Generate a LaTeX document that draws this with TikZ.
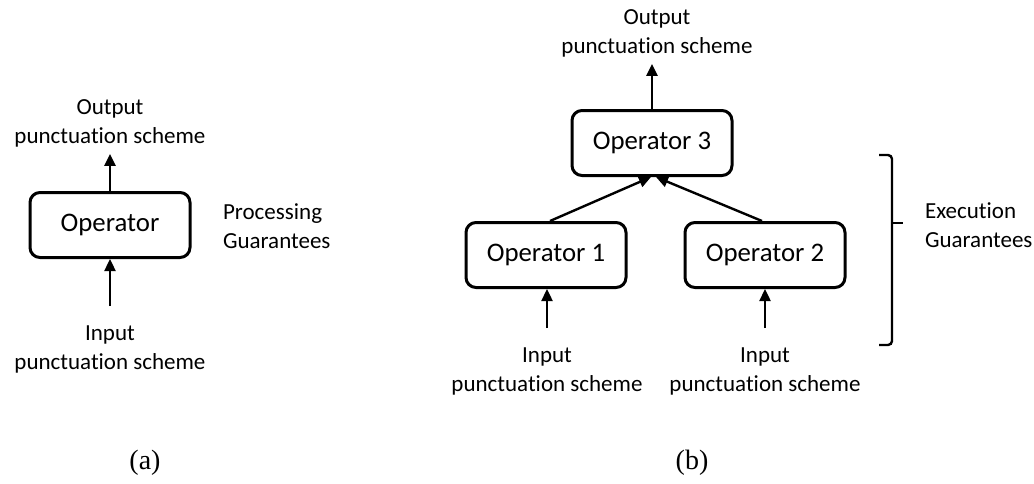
\documentclass[tikz,border=0pt]{standalone}
\usepackage{fontspec}
\setmainfont{Carlito}[Ligatures=NoCommon]
\newfontfamily\capfont{Liberation Serif}
\usetikzlibrary{arrows.meta}

\begin{document}
\begin{tikzpicture}[x=0.5pt,y=-0.5pt,
		op/.style={draw,line width=1.5pt,rounded corners=5pt,minimum width=80pt,minimum height=32.5pt,font=\fontsize{13.4}{15}\selectfont},
		lbl/.style={align=center,font=\fontsize{11.5}{14.5}\selectfont},
		sublbl/.style={font=\capfont\fontsize{14}{16}\selectfont},
		flow/.style={-{Triangle[length=6pt,width=5.5pt]},line width=1.2pt}]
		\useasboundingbox (0,0) rectangle (1034,483);
		% (a) single operator
		\node[op] (opa) at (110,225) {Operator};
		\node[lbl] (outa) at (110,123) {Output\\punctuation scheme};
		\node[lbl] (ina) at (110,349) {Input\\punctuation scheme};
		\node[lbl,align=left,anchor=west] (proc) at (216,226) {Processing\\Guarantees};
		\draw[flow] (opa) -- (outa);
		\draw[flow,shorten <=6pt] (ina) -- (opa);
		\node[sublbl] (capa) at (145,463) {(a)};
		% (b) three operators
		\node[op] (op3) at (652,143) {Operator 3};
		\node[op] (op1) at (546,255) {Operator 1};
		\node[op] (op2) at (765,255) {Operator 2};
		\node[lbl] (out3) at (657,33) {Output\\punctuation scheme};
		\node[lbl] (in1) at (547,371) {Input\\punctuation scheme};
		\node[lbl] (in2) at (765,371) {Input\\punctuation scheme};
		\draw[flow] (op3) -- (op3 |- out3.south);
		\draw[flow] ([xshift=2pt]op1.north) -- ([xshift=-0.5pt]op3.south);
		\draw[flow] ([xshift=-1.5pt]op2.north) -- ([xshift=2pt]op3.south);
		\draw[flow,shorten <=6pt] (in1.north) -- (in1.north |- op1.south);
		\draw[flow,shorten <=6pt] (in2.north) -- (in2.north |- op2.south);
		\draw[line width=1.2pt,rounded corners=2pt] (879,155) -| (892,223) |- (879,345);
		\draw[line width=1.2pt] (892,223) -- (903,223);
		\node[lbl,align=left,anchor=west] (exec) at (918,225) {Execution\\Guarantees};
		\node[sublbl] (capb) at (692,463) {(b)};
\end{tikzpicture}
\end{document}
